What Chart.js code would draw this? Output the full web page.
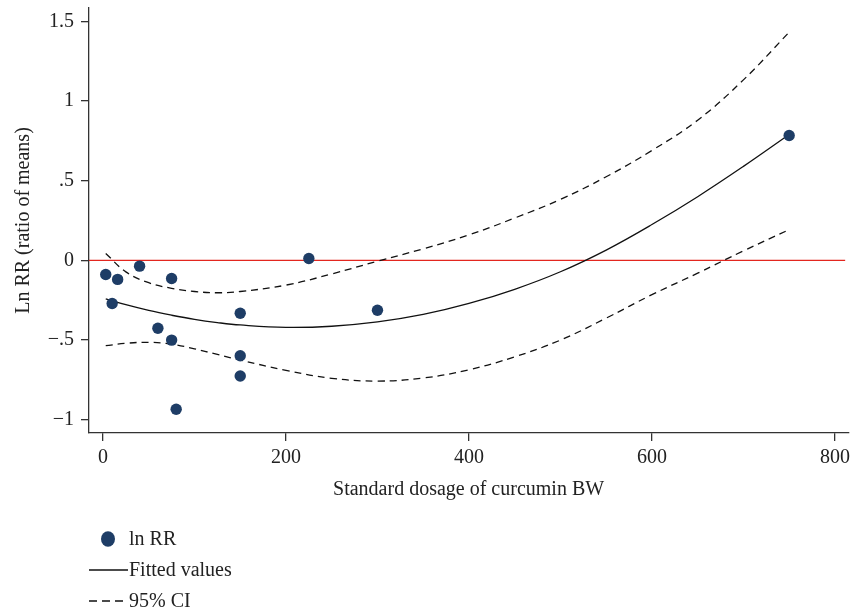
<!DOCTYPE html>
<html>
<head>
<meta charset="utf-8">
<script src="https://cdn.jsdelivr.net/npm/chart.js@4.4.1/dist/chart.umd.min.js"></script>
<style>
  html, body { margin: 0; padding: 0; background: #fff; }
  #wrap { width: 855px; height: 614px; position: relative; }
</style>
</head>
<body>
<div id="wrap"><canvas id="doseChart"></canvas></div>
<script>
// study points: standard dosage vs ln RR
const dosage = [3, 10, 16, 40, 60, 75, 75, 80, 150, 150, 150, 225, 300, 750];
const lnRR = [-0.088, -0.27, -0.119, -0.036, -0.426, -0.113, -0.50, -0.934, -0.332, -0.598, -0.725, 0.012, -0.313, 0.784];

const curveX  = [3, 25, 50, 75, 100, 125, 150, 200, 250, 300, 350, 400, 450, 500, 550, 600, 650, 700, 750];
const fitted  = [-0.242, -0.278, -0.314, -0.344, -0.370, -0.390, -0.405, -0.420, -0.413, -0.386, -0.339, -0.270, -0.181, -0.071, 0.065, 0.225, 0.400, 0.590, 0.790];
const ciUpper = [0.044, -0.072, -0.140, -0.175, -0.195, -0.203, -0.195, -0.155, -0.085, -0.005, 0.073, 0.160, 0.266, 0.383, 0.525, 0.690, 0.880, 1.133, 1.432];
const ciLower = [-0.535, -0.520, -0.514, -0.525, -0.555, -0.590, -0.625, -0.690, -0.740, -0.757, -0.738, -0.686, -0.605, -0.500, -0.362, -0.215, -0.080, 0.060, 0.193];

const xTickValues = [0, 200, 400, 600, 800];
const xTickLabels = ['0', '200', '400', '600', '800'];
const yTickValues = [-1, -0.5, 0, 0.5, 1, 1.5];
const yTickLabels = ['\u22121', '\u2212.5', '0', '.5', '1', '1.5'];
const refLineY = 0;

const FONT = { family: "'Liberation Serif', 'DejaVu Serif', serif", size: 20 };
const AXIS_COLOR = '#333';
const DOT_COLOR = '#1e3d66';

const toPoints = (xs, ys) => xs.map((x, i) => ({ x: x, y: ys[i] }));

// red horizontal line at y = 0 across the plot area
const refLinePlugin = {
    id: 'refLine',
    beforeDatasetsDraw(chart) {
        const { ctx, chartArea, scales } = chart;
        const y = scales.y.getPixelForValue(refLineY);
        ctx.save();
        ctx.strokeStyle = '#e3261f';
        ctx.lineWidth = 1.2;
        ctx.beginPath();
        ctx.moveTo(chartArea.left, y);
        ctx.lineTo(chartArea.right - 3, y);
        ctx.stroke();
        ctx.restore();
    }
};

// stacked legend below the axis title, like the Stata one
const stackLegend = {
    id: 'stackLegend',
    afterDraw(chart) {
        const { ctx, chartArea } = chart;
        const seen = [];
        chart.data.datasets.forEach(ds => {
            if (!seen.find(s => s.label === ds.label)) seen.push(ds);
        });
        const x0 = chartArea.left;
        const textX = x0 + 40;
        let rowY = chartArea.bottom + 106;
        ctx.save();
        ctx.font = FONT.size + 'px ' + FONT.family;
        ctx.textBaseline = 'middle';
        seen.forEach(ds => {
            if (ds.type === 'scatter') {
                ctx.fillStyle = DOT_COLOR;
                ctx.beginPath();
                ctx.ellipse(x0 + 19, rowY, 7, 7.8, 0, 0, Math.PI * 2);
                ctx.fill();
            } else {
                ctx.strokeStyle = '#111';
                ctx.lineWidth = 1.3;
                ctx.setLineDash(ds.borderDash ? [8, 5] : []);
                ctx.beginPath();
                ctx.moveTo(x0, rowY);
                ctx.lineTo(ds.borderDash ? x0 + 34 : textX - 1, rowY);
                ctx.stroke();
                ctx.setLineDash([]);
            }
            ctx.fillStyle = '#222';
            ctx.fillText(ds.label, textX, rowY + 1);
            rowY += 31;
        });
        ctx.restore();
    }
};

const lineStyle = { borderColor: '#111', borderWidth: 1.3, pointRadius: 0, tension: 0.4, fill: false };

const ctx = document.getElementById('doseChart');
new Chart(ctx, {
    data: {
        datasets: [
            {
                type: 'scatter',
                label: 'ln RR',
                data: toPoints(dosage, lnRR),
                backgroundColor: DOT_COLOR,
                borderColor: DOT_COLOR,
                pointRadius: 5.7,
                borderWidth: 0,
                order: 0
            },
            Object.assign({ type: 'line', label: 'Fitted values', data: toPoints(curveX, fitted), order: 1 }, lineStyle),
            Object.assign({ type: 'line', label: '95% CI', data: toPoints(curveX, ciUpper), borderDash: [7, 5], order: 2 }, lineStyle),
            Object.assign({ type: 'line', label: '95% CI', data: toPoints(curveX, ciLower), borderDash: [7, 5], order: 2 }, lineStyle)
        ]
    },
    options: {
        responsive: true,
        maintainAspectRatio: false,
        animation: false,
        layout: { padding: { top: 8, right: 5, bottom: 101, left: 0 } },
        plugins: {
            legend: { display: false },
            tooltip: { enabled: false }
        },
        scales: {
            x: {
                type: 'linear',
                min: -15.3,
                max: 814.5,
                afterBuildTicks: (scale) => { scale.ticks = xTickValues.map(v => ({ value: v })); },
                afterFit: (scale) => { scale.height = 80; },
                ticks: {
                    font: FONT,
                    color: '#222',
                    padding: 5,
                    maxRotation: 0,
                    callback: (v) => xTickLabels[xTickValues.indexOf(v)]
                },
                grid: { drawOnChartArea: false, drawTicks: true, tickLength: 8, color: AXIS_COLOR, lineWidth: 1.3 },
                border: { display: true, color: AXIS_COLOR, width: 1.3 },
                title: {
                    display: true,
                    text: 'Standard dosage of curcumin BW',
                    font: FONT,
                    color: '#222',
                    padding: { top: 0, bottom: 11 }
                }
            },
            y: {
                type: 'linear',
                min: -1.083,
                max: 1.584,
                afterBuildTicks: (scale) => { scale.ticks = yTickValues.map(v => ({ value: v })); },
                afterFit: (scale) => {
                    scale.width = 89;
                    scale.paddingTop = 0;
                    scale.paddingBottom = 0;
                },
                ticks: {
                    font: FONT,
                    color: '#222',
                    padding: 7,
                    callback: (v) => yTickLabels[yTickValues.indexOf(v)]
                },
                grid: { drawOnChartArea: false, drawTicks: true, tickLength: 8, color: AXIS_COLOR, lineWidth: 1.3 },
                border: { display: true, color: AXIS_COLOR, width: 1.3 },
                title: {
                    display: true,
                    text: 'Ln RR (ratio of means)',
                    font: FONT,
                    color: '#222',
                    padding: { top: 12, bottom: 0 }
                }
            }
        }
    },
    plugins: [refLinePlugin, stackLegend]
});
</script>
</body>
</html>
